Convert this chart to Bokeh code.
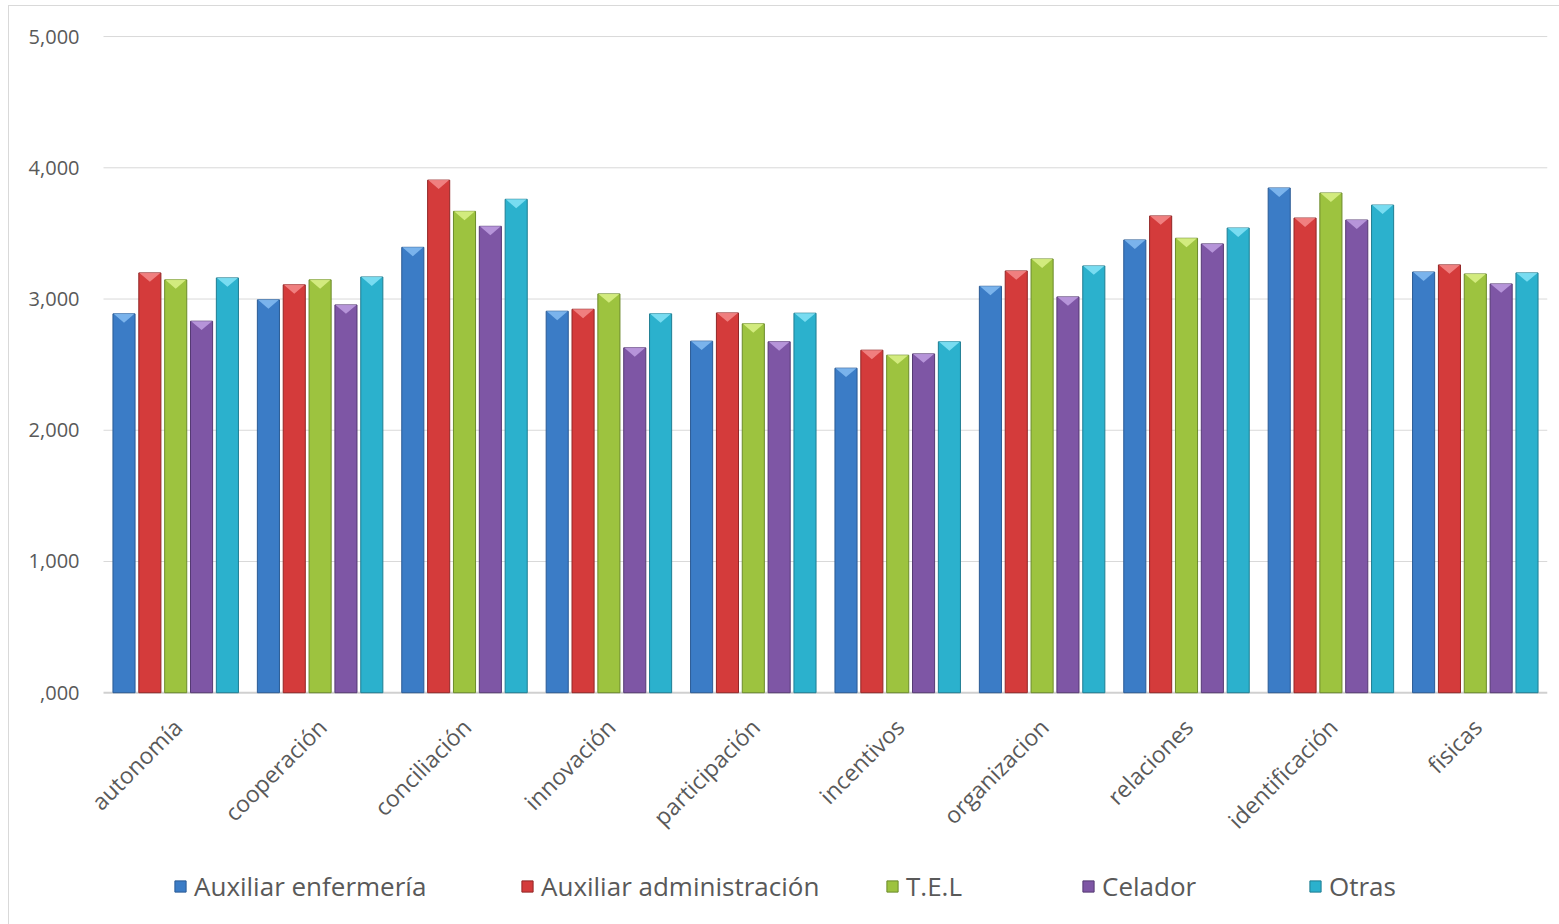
from math import pi
from bokeh.plotting import figure
from bokeh.models import FixedTicker, Legend, LegendItem, ColumnDataSource
from bokeh.core.properties import value
from bokeh.embed import file_html
from bokeh.resources import INLINE

categories = ["autonomía", "cooperación", "conciliación", "innovación", "participación",
              "incentivos", "organizacion", "relaciones", "identificación", "fisicas"]
series_names = ["Auxiliar enfermería", "Auxiliar administración", "T.E.L", "Celador", "Otras"]
aux_enfermeria = [2887, 2994, 3394, 2907, 2679, 2473, 3097, 3450, 3846, 3206]
aux_administracion = [3199, 3108, 3906, 2922, 2894, 2610, 3214, 3633, 3617, 3260]
tel = [3146, 3146, 3668, 3039, 2811, 2572, 3305, 3463, 3808, 3191]
celador = [2831, 2955, 3554, 2628, 2674, 2582, 3016, 3420, 3602, 3115]
otras = [3161, 3168, 3760, 2887, 2892, 2674, 3252, 3541, 3716, 3199]
y_ticks = [0, 1000, 2000, 3000, 4000, 5000]
y_tick_labels = [",000", "1,000", "2,000", "3,000", "4,000", "5,000"]

series_values = [aux_enfermeria, aux_administracion, tel, celador, otras]
fills = ["#3b7cc6", "#d43b3b", "#9dc33f", "#7e56a5", "#2bb1cd"]
edges = ["#2a5a94", "#922626", "#6b8a2a", "#553a73", "#1e7d92"]
lights = ["#86bdf2", "#f48c8c", "#dcf28a", "#bf9fe2", "#86e4f7"]
offsets = [-0.358, -0.179, 0.0, 0.179, 0.358]
bar_w = 0.153
bevel = 68

bg = ("linear-gradient(#d9d9d9,#d9d9d9) 8px 5px / 1px 100% no-repeat, "
      "linear-gradient(#d9d9d9,#d9d9d9) 8px 5px / 100% 1px no-repeat, white")

# frame extends below the zero line (and a little left) so that the category
# labels and legend live inside it
p = figure(frame_width=1462, frame_height=884, x_range=(-0.1247, 10), y_range=(-1728, 5008),
           min_border_left=85, min_border_right=12, min_border_top=35, min_border_bottom=5,
           output_backend="svg", toolbar_location=None, background_fill_color=None,
           border_fill_color=None, styles={"background": bg})
p.outline_line_color = None
p.xaxis.visible = False
p.xgrid.grid_line_color = None
p.ygrid.grid_line_color = None

n_cat = len(categories)
centers = [i + 0.5 for i in range(n_cat)]

# horizontal gridlines over the plotting area only
grid_ticks = y_ticks[1:]
p.segment(x0=[0] * len(grid_ticks), x1=[n_cat] * len(grid_ticks), y0=grid_ticks, y1=grid_ticks,
          line_color="#d9d9d9", line_width=1)
# category axis line at zero
p.segment(x0=[0], x1=[n_cat], y0=[y_ticks[0]], y1=[y_ticks[0]], line_color="#d0d0d0", line_width=2)

renderers = []
for k, vals in enumerate(series_values):
    xs = [c + offsets[k] for c in centers]
    src = ColumnDataSource(dict(x=xs, top=vals))
    r = p.vbar(x="x", top="top", width=bar_w, bottom=0, source=src,
               fill_color=fills[k], line_color=edges[k], line_width=1)
    renderers.append(r)
    txs = [[x - bar_w / 2 + 0.004, x + bar_w / 2 - 0.004, x] for x in xs]
    tys = [[v, v, v - bevel] for v in vals]
    p.patches(xs=txs, ys=tys, fill_color=lights[k], line_color=None, fill_alpha=0.85)

# category labels, rotated 45 degrees, ending under each group's centre
lab_src = ColumnDataSource(dict(x=centers, y=[0] * n_cat, t=categories))
p.text(x="x", y="y", text="t", source=lab_src, angle=pi / 4, text_align="right",
       text_baseline="middle", x_offset=2, y_offset=30,
       text_font=value("Open Sans"), text_font_size="23px", text_color="#595959")

# y axis
p.yaxis.ticker = FixedTicker(ticks=y_ticks)
p.yaxis.major_label_overrides = {t: l for t, l in zip(y_ticks, y_tick_labels)}
p.yaxis.axis_line_color = None
p.yaxis.major_tick_line_color = None
p.yaxis.minor_tick_line_color = None
p.yaxis.major_label_text_font = "Open Sans"
p.yaxis.major_label_text_font_size = "20px"
p.yaxis.major_label_text_color = "#595959"
p.yaxis.major_label_standoff = 0

# legend entries placed individually like the original
legend_x = [88, 435, 800, 996, 1223]
for k, name in enumerate(series_names):
    lg = Legend(items=[LegendItem(label=name, renderers=[renderers[k]])],
                location=(legend_x[k], 15), orientation="horizontal",
                glyph_width=14, glyph_height=14, label_standoff=7,
                label_text_font="Open Sans", label_text_font_size="26px",
                label_text_color="#595959", border_line_color=None,
                background_fill_alpha=0, padding=0, margin=0)
    p.add_layout(lg, "center")

open("out.html", "w").write(file_html(p, INLINE))
